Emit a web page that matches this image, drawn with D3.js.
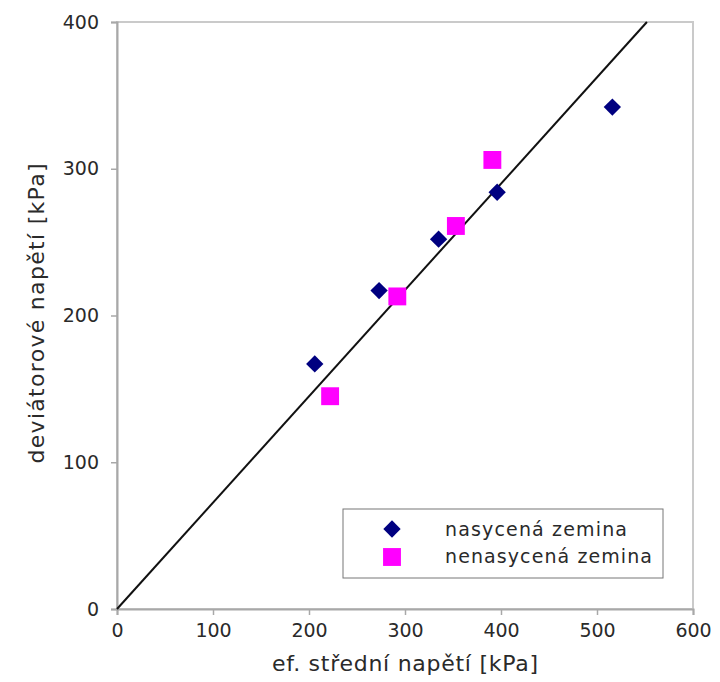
<!DOCTYPE html>
<html>
<head>
<meta charset="utf-8">
<script src="https://d3js.org/d3.v7.min.js"></script>
<style>
  body { margin: 0; background: #fff; }
  text { font-family: "DejaVu Sans", sans-serif; }
</style>
</head>
<body>
<div id="chart"></div>
<script>
// data
var satX = [206, 273, 335, 396, 516];
var satY = [167, 217, 252, 284, 342];
var unsatX = [222, 292, 353, 391];
var unsatY = [145, 213, 261, 306];
var lineX = [0, 552];
var lineY = [0, 400];
var xTicks = [0, 100, 200, 300, 400, 500, 600];
var yTicks = [0, 100, 200, 300, 400];
var seriesNames = ["nasycená zemina", "nenasycená zemina"];

var margin = {top: 22, right: 27, bottom: 73, left: 117},
    width = 720 - margin.left - margin.right,
    height = 682 - margin.top - margin.bottom;

var svg = d3.select("#chart").append("svg")
    .attr("width", 720)
    .attr("height", 682)
  .append("g")
    .attr("transform", "translate(" + margin.left + "," + margin.top + ")");

var x = d3.scaleLinear().domain([0, 600]).range([0, width]);
var y = d3.scaleLinear().domain([0, 400]).range([height, 0]);

// frame
svg.append("rect")
    .attr("width", width).attr("height", height)
    .style("fill", "none").style("stroke", "#cacaca").style("stroke-width", 2);

// axes
var xAxis = svg.append("g")
    .attr("transform", "translate(0," + height + ")")
    .call(d3.axisBottom(x).tickValues(xTicks).tickSize(6).tickPadding(9));
var yAxis = svg.append("g")
    .call(d3.axisLeft(y).tickValues(yTicks).tickSize(6).tickPadding(12));
[xAxis, yAxis].forEach(function(a) {
  a.select(".domain").style("stroke", "#a8a8a8").style("stroke-width", 2);
  a.selectAll(".tick line").style("stroke", "#a8a8a8").style("stroke-width", 1.5);
  a.selectAll(".tick text").style("font-size", "19px").style("fill", "#2a2a2a")
    .style("font-family", "DejaVu Sans, sans-serif");
});

// axis titles
svg.append("text")
    .attr("x", width / 2).attr("y", height + 62)
    .attr("textLength", 266)
    .style("text-anchor", "middle").style("font-size", "22px").style("fill", "#2a2a2a")
    .text("ef. střední napětí [kPa]");
svg.append("text")
    .attr("transform", "rotate(-90)")
    .attr("x", -height / 2 + 2).attr("y", -73)
    .attr("textLength", 300)
    .style("text-anchor", "middle").style("font-size", "22px").style("fill", "#2a2a2a")
    .text("deviátorové napětí [kPa]");

// fitted line
var line = d3.line().x(function(d) { return x(d[0]); }).y(function(d) { return y(d[1]); });
svg.append("path")
    .datum(d3.zip(lineX, lineY))
    .attr("d", line)
    .style("fill", "none").style("stroke", "#111").style("stroke-width", 2);

var diamond = d3.symbol().type(d3.symbolSquare).size(150);
var square = d3.symbol().type(d3.symbolSquare).size(320);

svg.selectAll(".sat")
    .data(d3.zip(satX, satY)).enter()
    .append("path")
    .attr("class", "sat")
    .attr("d", diamond)
    .attr("transform", function(d) { return "translate(" + x(d[0]) + "," + y(d[1]) + ") rotate(45)"; })
    .style("fill", "#000080");

svg.selectAll(".unsat")
    .data(d3.zip(unsatX, unsatY)).enter()
    .append("path")
    .attr("class", "unsat")
    .attr("d", square)
    .attr("transform", function(d) { return "translate(" + x(d[0]) + "," + y(d[1]) + ")"; })
    .style("fill", "#ff00ff");

// legend
var lg = svg.append("g").attr("transform", "translate(" + (343 - margin.left) + "," + (509 - margin.top) + ")");
lg.append("rect")
    .attr("width", 320).attr("height", 69)
    .style("fill", "#fff").style("stroke", "#777").style("stroke-width", 1);
lg.append("path").attr("d", diamond)
    .attr("transform", "translate(49,20) rotate(45)").style("fill", "#000080");
lg.append("path").attr("d", square)
    .attr("transform", "translate(49,48)").style("fill", "#ff00ff");
lg.selectAll(".lt")
    .data(seriesNames).enter()
    .append("text")
    .attr("x", 102).attr("y", function(d, i) { return 27 + i * 27; })
    .attr("textLength", function(d, i) { return i == 0 ? 182 : 207; })
    .style("font-size", "19px").style("fill", "#2a2a2a")
    .text(function(d) { return d; });
</script>
</body>
</html>
